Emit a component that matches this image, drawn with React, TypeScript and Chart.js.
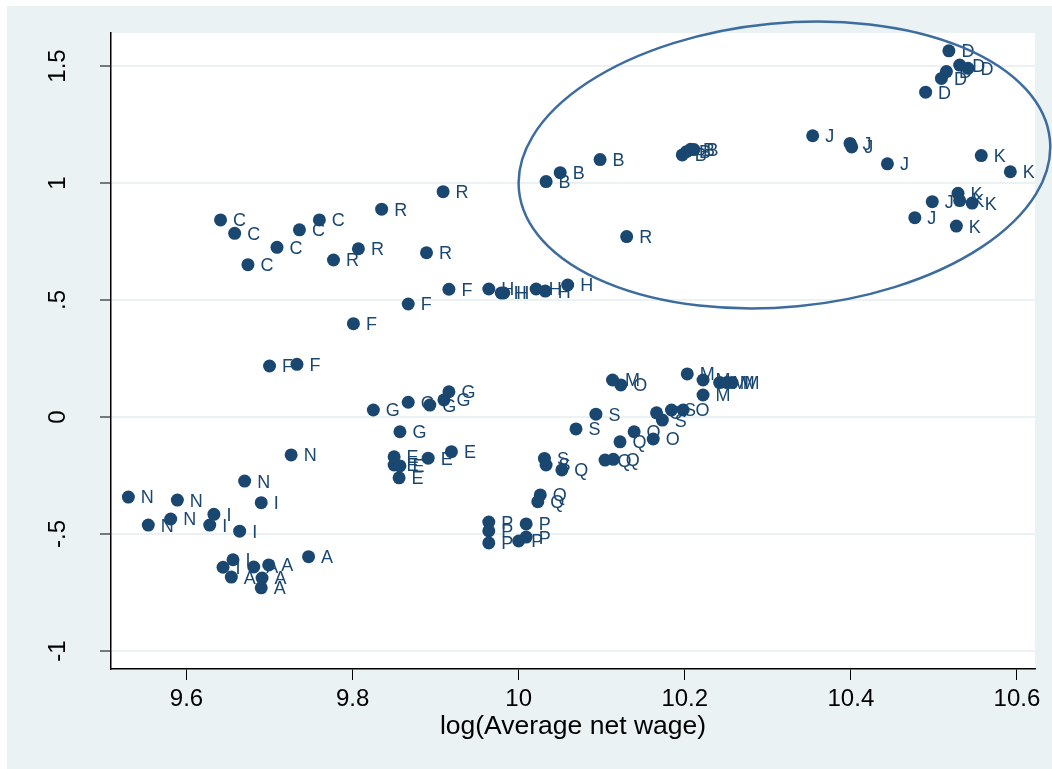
import React, { useEffect, useRef } from 'react';
import { Chart, registerables } from 'chart.js';

Chart.register(...registerables);

// Sector letter of each point
const sectorLabels: string[] = [
  'N', 'N', 'N', 'N', 'N', 'N',
  'I', 'I', 'I', 'I', 'I', 'I',
  'A', 'A', 'A', 'A', 'A', 'A',
  'C', 'C', 'C', 'C', 'C', 'C',
  'R', 'R', 'R', 'R', 'R', 'R',
  'F', 'F', 'F', 'F', 'F',
  'H', 'H', 'H', 'H', 'H', 'H',
  'G', 'G', 'G', 'G', 'G', 'G',
  'E', 'E', 'E', 'E', 'E', 'E',
  'S', 'S', 'S', 'S', 'S', 'S',
  'Q', 'Q', 'Q', 'Q', 'Q', 'Q',
  'O', 'O', 'O', 'O', 'O',
  'M', 'M', 'M', 'M', 'M', 'M', 'M',
  'P', 'P', 'P', 'P', 'P', 'P',
  'B', 'B', 'B', 'B', 'B', 'B', 'B',
  'D', 'D', 'D', 'D', 'D', 'D',
  'J', 'J', 'J', 'J', 'J', 'J',
  'K', 'K', 'K', 'K', 'K', 'K',
];

// log(Average net wage)
const logWage: number[] = [
  9.530, 9.589, 9.554, 9.581, 9.670, 9.726,
  9.633, 9.628, 9.690, 9.664, 9.656, 9.644,
  9.654, 9.699, 9.691, 9.690, 9.747, 9.681,
  9.641, 9.658, 9.709, 9.736, 9.760, 9.674,
  9.835, 9.807, 9.777, 9.889, 9.909, 10.130,
  9.916, 9.867, 9.801, 9.700, 9.733,
  9.964, 9.979, 9.982, 10.021, 10.032, 10.059,
  9.825, 9.867, 9.893, 9.910, 9.916, 9.857,
  9.850, 9.850, 9.857, 9.856, 9.891, 9.919,
  10.093, 10.069, 10.031, 10.033, 10.173, 10.184,
  10.052, 10.026, 10.023, 10.104, 10.114, 10.122,
  10.123, 10.139, 10.162, 10.166, 10.198,
  10.113, 10.203, 10.222, 10.242, 10.251, 10.257, 10.222,
  9.964, 9.964, 9.964, 10.009, 10.009, 10.000,
  10.033, 10.050, 10.098, 10.197, 10.202, 10.207, 10.211,
  10.518, 10.531, 10.541, 10.515, 10.509, 10.490,
  10.354, 10.399, 10.401, 10.444, 10.498, 10.477,
  10.557, 10.592, 10.529, 10.531, 10.546, 10.527,
];

// vertical-axis value
const yValue: number[] = [
  -0.342, -0.355, -0.462, -0.436, -0.274, -0.162,
  -0.416, -0.462, -0.366, -0.488, -0.610, -0.642,
  -0.684, -0.632, -0.688, -0.730, -0.597, -0.641,
  0.842, 0.785, 0.725, 0.800, 0.842, 0.651,
  0.888, 0.719, 0.671, 0.702, 0.963, 0.771,
  0.546, 0.483, 0.399, 0.218, 0.225,
  0.547, 0.530, 0.530, 0.547, 0.538, 0.564,
  0.030, 0.063, 0.051, 0.073, 0.108, -0.063,
  -0.170, -0.205, -0.209, -0.260, -0.176, -0.148,
  0.012, -0.051, -0.177, -0.205, -0.013, 0.030,
  -0.226, -0.333, -0.362, -0.184, -0.181, -0.106,
  0.137, -0.063, -0.094, 0.018, 0.030,
  0.158, 0.184, 0.158, 0.147, 0.147, 0.147, 0.094,
  -0.449, -0.487, -0.538, -0.457, -0.513, -0.530,
  1.006, 1.044, 1.100, 1.120, 1.134, 1.144, 1.143,
  1.565, 1.504, 1.490, 1.476, 1.447, 1.388,
  1.202, 1.169, 1.154, 1.082, 0.920, 0.852,
  1.117, 1.048, 0.956, 0.925, 0.914, 0.816,
];

const xTickValues = [9.6, 9.8, 10, 10.2, 10.4, 10.6];
const xTickLabels = ['9.6', '9.8', '10', '10.2', '10.4', '10.6'];
const yTickValues = [-1, -0.5, 0, 0.5, 1, 1.5];
const yTickLabels = ['-1', '-.5', '0', '.5', '1', '1.5'];
const xAxisTitle = 'log(Average net wage)';

// highlight ellipse (data units for centre and radii, tilt in degrees)
const ellipseCenter = [10.320, 1.077];
const ellipseRadii = [0.3211, 0.6064];
const ellipseTiltDeg = -5.4;

const NAVY = '#1a476f';
const BG = '#eaf2f3';
const FONT = '"Liberation Sans", Arial, sans-serif';

export default function App() {
  const canvasRef = useRef<HTMLCanvasElement | null>(null);

  useEffect(() => {
    document.body.style.margin = '0';
    const canvas = canvasRef.current;
    if (!canvas) return;

    const bgPlugin = {
      id: 'bgPlugin',
      beforeDraw(chart: any) {
        const { ctx, width, height, chartArea } = chart;
        ctx.save();
        ctx.fillStyle = '#ffffff';
        ctx.fillRect(0, 0, width, height);
        ctx.fillStyle = BG;
        ctx.fillRect(7, 6, width - 7, height - 6);
        ctx.fillStyle = '#ffffff';
        ctx.fillRect(chartArea.left, chartArea.top, chartArea.right - chartArea.left, chartArea.bottom - chartArea.top);
        ctx.restore();
      },
    };

    const labelPlugin = {
      id: 'labelPlugin',
      afterDatasetsDraw(chart: any) {
        const { ctx } = chart;
        const meta = chart.getDatasetMeta(0);
        ctx.save();
        ctx.font = `18px ${FONT}`;
        ctx.fillStyle = NAVY;
        ctx.textAlign = 'left';
        ctx.textBaseline = 'middle';
        meta.data.forEach((el: any, i: number) => {
          ctx.fillText(sectorLabels[i], el.x + 12.5, el.y + 1.5);
        });
        ctx.restore();
      },
      afterDraw(chart: any) {
        const { ctx } = chart;
        const xs = chart.scales.x;
        const ys = chart.scales.y;
        // rotated y tick labels
        ctx.save();
        ctx.font = `24px ${FONT}`;
        ctx.fillStyle = '#000';
        ctx.textAlign = 'center';
        ctx.textBaseline = 'middle';
        yTickValues.forEach((v, i) => {
          const py = ys.getPixelForValue(v);
          ctx.save();
          ctx.translate(58, py);
          ctx.rotate(-Math.PI / 2);
          ctx.fillText(yTickLabels[i], 0, 0);
          ctx.restore();
        });
        ctx.restore();
        // ellipse
        const cx = xs.getPixelForValue(ellipseCenter[0]);
        const cy = ys.getPixelForValue(ellipseCenter[1]);
        const rx = Math.abs(xs.getPixelForValue(ellipseCenter[0] + ellipseRadii[0]) - cx);
        const ry = Math.abs(ys.getPixelForValue(ellipseCenter[1] + ellipseRadii[1]) - cy);
        ctx.save();
        ctx.strokeStyle = '#3d6c9e';
        ctx.lineWidth = 2.5;
        ctx.beginPath();
        ctx.ellipse(cx, cy, rx, ry, (ellipseTiltDeg * Math.PI) / 180, 0, Math.PI * 2);
        ctx.stroke();
        ctx.restore();
      },
    };

    const chart = new Chart(canvas, {
      type: 'scatter',
      data: {
        datasets: [
          {
            data: logWage.map((x, i) => ({ x, y: yValue[i] })),
            backgroundColor: NAVY,
            borderWidth: 0,
            pointRadius: 6.5,
            pointHoverRadius: 6.5,
          },
        ],
      },
      options: {
        responsive: false,
        animation: false,
        devicePixelRatio: 1,
        layout: { padding: { left: 0, top: 33, right: 17, bottom: 0 } },
        plugins: { legend: { display: false }, tooltip: { enabled: false }, title: { display: false } },
        scales: {
          x: {
            type: 'linear',
            min: 9.5091,
            max: 10.6217,
            afterBuildTicks: (s: any) => {
              s.ticks = xTickValues.map((v) => ({ value: v }));
            },
            afterFit: (s: any) => {
              s.height = 100;
              s.paddingLeft = 0;
              s.paddingRight = 0;
            },
            ticks: {
              autoSkip: false,
              maxRotation: 0,
              minRotation: 0,
              color: '#000',
              padding: 7,
              font: { family: FONT, size: 24, lineHeight: 1 },
              callback: (v: any) => {
                const i = xTickValues.findIndex((t) => Math.abs(t - Number(v)) < 1e-6);
                return i >= 0 ? xTickLabels[i] : '';
              },
            },
            grid: {
              drawOnChartArea: false,
              drawTicks: true,
              tickLength: 11,
              tickColor: '#000',
              tickWidth: 1,
            },
            border: { display: true, color: '#000', width: 1.5 },
            title: {
              display: true,
              text: xAxisTitle,
              color: '#000',
              font: { family: FONT, size: 26.5, lineHeight: 1 },
              padding: { top: 0, bottom: 29 },
            },
          },
          y: {
            type: 'linear',
            min: -1.0769,
            max: 1.641,
            afterBuildTicks: (s: any) => {
              s.ticks = yTickValues.map((v) => ({ value: v }));
            },
            afterFit: (s: any) => {
              s.width = 111;
              s.paddingTop = 0;
              s.paddingBottom = 0;
            },
            ticks: { display: false },
            grid: {
              color: BG,
              lineWidth: 2,
              drawTicks: true,
              tickLength: 11,
              tickColor: '#000',
              tickWidth: 1,
            },
            border: { display: true, color: '#000', width: 1.5 },
          },
        },
      },
      plugins: [bgPlugin, labelPlugin],
    });

    return () => chart.destroy();
  }, []);

  return (
    <div style={{ width: 1052, height: 769 }}>
      <canvas ref={canvasRef} width={1052} height={769} style={{ width: 1052, height: 769, display: 'block' }} />
    </div>
  );
}
